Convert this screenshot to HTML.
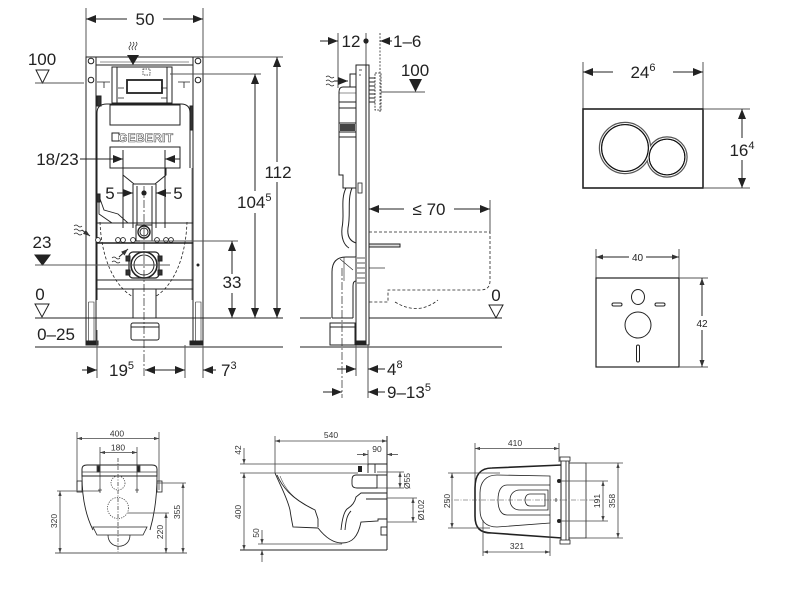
<!DOCTYPE html>
<html><head><meta charset="utf-8"><style>
html,body{margin:0;padding:0;background:#fff;}
svg{display:block;}
text{font-family:"Liberation Sans",sans-serif;fill:#222;}
.b text{fill:#333;font-size:8.5px;}
</style></head><body>
<svg width="800" height="600" viewBox="0 0 800 600" xmlns="http://www.w3.org/2000/svg">
<defs>
<marker id="A" markerUnits="userSpaceOnUse" viewBox="0 0 10 8" markerWidth="10" markerHeight="8" refX="10" refY="4" orient="auto-start-reverse"><path d="M0,0L10,4L0,8z" fill="#222"/></marker>
<marker id="M" markerUnits="userSpaceOnUse" viewBox="0 0 7 5" markerWidth="7" markerHeight="5" refX="7" refY="2.5" orient="auto-start-reverse"><path d="M0,0L7,2.5L0,5z" fill="#333"/></marker>
<marker id="s" markerUnits="userSpaceOnUse" viewBox="0 0 6 4" markerWidth="5" markerHeight="3.4" refX="6" refY="2" orient="auto-start-reverse"><path d="M0,0L6,2L0,4z" fill="#444"/></marker>
</defs>
<rect width="800" height="600" fill="#fff"/>

<!-- ================= FRONT FRAME VIEW ================= -->
<g fill="none" stroke="#222" stroke-width="1">
  <line x1="86" y1="8" x2="86" y2="57" stroke="#555"/>
  <line x1="203" y1="8" x2="203" y2="57" stroke="#555"/>
  <line x1="86" y1="19" x2="203" y2="19" marker-start="url(#A)" marker-end="url(#A)"/>
  <path d="M130,42 q2,2 0,4 q-2,2 0,4 M133,42 q2,2 0,4 q-2,2 0,4 M136,42 q2,2 0,4 q-2,2 0,4" stroke-width="0.7"/>
  <rect x="86" y="57" width="10" height="288"/>
  <rect x="193" y="57" width="10" height="288"/>
  <rect x="96" y="57" width="97" height="8"/>
  <line x1="100" y1="62" x2="189" y2="62" stroke-width="0.6"/>
  <circle cx="91" cy="61" r="2.8"/><circle cx="198" cy="61" r="2.8"/>
  <circle cx="91" cy="80" r="2.8"/><circle cx="198" cy="80" r="2.8"/>
  <path d="M88.5,302 H94 V341 M88.5,302 V341 M195.5,302 H201 V341 M195.5,302 V341" stroke-width="0.6"/>
  <rect x="112" y="67" width="60" height="36"/>
  <line x1="117" y1="67" x2="117" y2="103"/><line x1="167" y1="67" x2="167" y2="103"/>
  <rect x="127" y="80" width="35" height="13" stroke-width="1.8"/>
  <rect x="143" y="69" width="7" height="6" stroke-dasharray="1.5,1" stroke-width="0.7"/>
  <path d="M97,82 L110,82 M104,82 L104,88 M178,82 L190,82 M184,82 L184,88" stroke-width="0.8"/>
  <path d="M118,88 h6 M118,98 h6 M161,88 h6 M161,98 h6" stroke-width="0.8"/>
  <path d="M97,168 L97,113 Q97,104 107,104 L181,104 Q190,104 190,113 L190,168"/>
  <rect x="110" y="105" width="70" height="20"/>
  <rect x="190" y="106" width="3" height="24" fill="#333"/>
  <rect x="97" y="96" width="4" height="10" fill="#333"/>
  <rect x="112" y="133" width="7" height="8"/>
  <rect x="110" y="147" width="70" height="21"/>
  <path d="M123,168 L123,175 L134,184 L155,184 L166,175 L166,168"/>
  <path d="M123,150 V228 M165,150 V228 M133,184 V228 M156,184 V228 M137,186 V226 M152,186 V226"/>
  <path d="M99,196 L99,214 L112,223 L128,223 L118,214 L104,210 Z" stroke-width="0.9"/>
  <rect x="97" y="194" width="3" height="8" fill="#333"/>
  <line x1="97" y1="168" x2="97" y2="300"/>
  <line x1="192" y1="168" x2="192" y2="300" stroke-width="0.6"/>
  <line x1="96" y1="223" x2="193" y2="223"/>
  <line x1="96" y1="243" x2="193" y2="243" stroke-width="1.6"/>
  <line x1="96" y1="280" x2="193" y2="280"/>
  <line x1="96" y1="289" x2="193" y2="289"/>
  <path d="M100,222 C102,276 128,300 144,300 C160,300 185,276 187,222" stroke-dasharray="3,2" stroke-width="0.8"/>
  <rect x="136" y="225" width="16" height="16" fill="#fff"/>
  <circle cx="144" cy="232" r="6" fill="#fff" stroke-width="1.4"/>
  <circle cx="144" cy="232" r="4"/>
  <g fill="#fff" stroke-width="0.9">
    <circle cx="98" cy="240" r="2.4"/><circle cx="118" cy="240" r="2.4"/><circle cx="123" cy="240" r="2.4"/>
    <circle cx="133" cy="240" r="2.4"/><circle cx="157" cy="240" r="2.4"/><circle cx="166" cy="240" r="2.4"/><circle cx="171" cy="240" r="2.4"/>
  </g>
  <rect x="129" y="252" width="30" height="26" rx="4" fill="#fff" stroke-width="1.2"/>
  <rect x="126" y="256" width="4" height="5" fill="#333"/><rect x="158" y="256" width="4" height="5" fill="#333"/>
  <rect x="126" y="270" width="4" height="5" fill="#333"/><rect x="158" y="270" width="4" height="5" fill="#333"/>
  <circle cx="144" cy="265" r="13" fill="#fff" stroke-width="1.6"/>
  <circle cx="144" cy="265" r="10"/>
  <rect x="133" y="289" width="23" height="29" fill="#fff"/>
  <rect x="131" y="323" width="28" height="17" rx="2" fill="#fff"/>
  <line x1="131" y1="327" x2="159" y2="327"/>
  <rect x="86" y="341" width="12" height="4" fill="#222"/>
  <rect x="190" y="341" width="13" height="4" fill="#222"/>
  <circle cx="198" cy="265" r="1" fill="#222"/>
  <line x1="144" y1="186" x2="144" y2="378" stroke-dasharray="8,2,2,2" stroke-width="0.7"/>
  <path d="M74,226 q2,-2 4,0 q2,2 4,0 M74,230 q2,-2 4,0 q2,2 4,0 M74,234 q2,-2 4,0 q2,2 4,0" stroke-width="0.7"/>
  <line x1="82" y1="230" x2="90" y2="236" marker-end="url(#M)"/>
  <path d="M112,258 q2,-2 4,0 q2,2 4,0 M112,262 q2,-2 4,0 q2,2 4,0" stroke-width="0.7"/>
  <line x1="119" y1="257" x2="128" y2="249" marker-end="url(#M)"/>

  <path d="M36,70 L49,70 L42.5,83 Z"/>
  <line x1="35" y1="83" x2="84" y2="83" stroke="#555"/>
  <path d="M35,255 L50,255 L42.5,265 Z" fill="#222"/>
  <line x1="35" y1="265" x2="170" y2="265" stroke="#555"/>
  <path d="M35,304 L49,304 L42,317 Z"/>
  <line x1="35" y1="318" x2="283" y2="318"/>
  <line x1="35" y1="347" x2="283" y2="347"/>
  <line x1="80" y1="159" x2="123" y2="159" marker-end="url(#A)"/>
  <line x1="180" y1="159" x2="165" y2="159" marker-end="url(#A)"/>
  <line x1="117" y1="193" x2="133" y2="193" marker-end="url(#A)"/>
  <line x1="171" y1="193" x2="156" y2="193" marker-end="url(#A)"/>
  <line x1="203" y1="57" x2="283" y2="57" stroke="#555"/>
  <line x1="170" y1="74" x2="261" y2="74" stroke="#555"/>
  <line x1="140" y1="241" x2="238" y2="241" stroke="#555"/>
  <line x1="277" y1="57" x2="277" y2="318" marker-start="url(#A)" marker-end="url(#A)"/>
  <line x1="255" y1="74" x2="255" y2="318" marker-start="url(#A)" marker-end="url(#A)"/>
  <line x1="232" y1="241" x2="232" y2="318" marker-start="url(#A)" marker-end="url(#A)"/>
  <path d="M97,330 V378 M185,345 V378 M203,345 V378" stroke="#555"/>
  <line x1="82" y1="370" x2="97" y2="370" marker-end="url(#A)"/>
  <line x1="145" y1="370" x2="185" y2="370" marker-start="url(#A)" marker-end="url(#A)"/>
  <line x1="216" y1="370" x2="203" y2="370" marker-end="url(#A)"/>
</g>
<circle cx="144" cy="193" r="2.6" fill="#222"/>
<path d="M127,55 L139,55 L133,65 Z" fill="#222"/>
<text x="118" y="142" font-size="12" font-weight="bold" stroke="#555" stroke-width="0.6" letter-spacing="0.3" style="fill:#fff">GEBERIT</text>

<g fill="#fff">
  <rect x="127" y="10" width="36" height="18"/>
  <rect x="262" y="162" width="32" height="20"/>
  <rect x="236" y="191" width="40" height="22"/>
  <rect x="221" y="274" width="22" height="19"/>
</g>
<g font-size="17">
  <text x="145" y="25" text-anchor="middle">50</text>
  <text x="42" y="65" text-anchor="middle">100</text>
  <text x="57.5" y="165" text-anchor="middle">18/23</text>
  <text x="110" y="199" text-anchor="middle">5</text>
  <text x="178" y="199" text-anchor="middle">5</text>
  <text x="42" y="248" text-anchor="middle">23</text>
  <text x="40" y="300" text-anchor="middle">0</text>
  <text x="56" y="340" text-anchor="middle">0–25</text>
  <text x="232" y="288" text-anchor="middle">33</text>
  <text x="237" y="208">104<tspan font-size="11" dy="-7">5</tspan></text>
  <text x="278" y="178" text-anchor="middle">112</text>
  <text x="109" y="376">19<tspan font-size="11" dy="-7">5</tspan></text>
  <text x="221" y="376">7<tspan font-size="11" dy="-7">3</tspan></text>
</g>

<!-- ================= SIDE VIEW ================= -->
<g fill="none" stroke="#222" stroke-width="1">
  <path d="M338,33 V88 M366,33 V65" stroke="#555"/>
  <line x1="380" y1="33" x2="380" y2="112" stroke="#555" stroke-dasharray="2,1.5"/>
  <line x1="320" y1="41" x2="338" y2="41" marker-end="url(#A)"/>
  <line x1="392" y1="41" x2="380" y2="41" marker-end="url(#A)"/>
  <rect x="356" y="65" width="13" height="280" fill="#fff"/>
  <line x1="366" y1="65" x2="366" y2="345"/>
  <path d="M359,70 h3 M359,75 h2" stroke-width="0.8"/>
  <rect x="358" y="183" width="4" height="10" stroke-width="0.8"/>
  <rect x="375" y="73" width="6" height="37" stroke-dasharray="2,1.2" stroke-width="0.8"/>
  <path d="M369,78 h6 M369,82 h6 M369,86 h6 M369,90 h6 M369,94 h6 M369,98 h6 M369,102 h6" stroke-width="0.9"/>
  <line x1="381" y1="92" x2="425" y2="92" stroke="#555"/>
  <path d="M350,87 L350,74 L356,74"/>
  <path d="M356,87 L343,87 Q339,87 339,92 L339,175 L343,175 L343,188 L356,188"/>
  <path d="M339,102 H356 M339,108 H356 M339,123 H356 M339,132 H356 M339,137 H356"/>
  <rect x="340" y="124" width="15" height="7" fill="#444" stroke="none"/>
  <path d="M339,93 H356" stroke-width="0.6"/>
  <path d="M346,188 C340,200 345,214 342,228 C341,238 344,245 349,248"/>
  <path d="M352,188 C347,200 351,214 348,228 C347,236 350,241 356,243"/>
  <path d="M326,77 q2,-2 4,0 q2,2 4,0 M326,81 q2,-2 4,0 q2,2 4,0 M326,85 q2,-2 4,0 q2,2 4,0" stroke-width="0.7"/>
  <line x1="334" y1="81" x2="348" y2="81" marker-end="url(#A)"/>
  <path d="M332,318 L332,272 Q332,257 346,257 L356,257" fill="#fff"/>
  <path d="M353,318 L353,286 Q353,281 356,281"/>
  <path d="M344,257 V281 M340,259 L353,270" stroke-width="0.6"/>
  <path d="M357,258 h8 M357,263 h8 M357,268 h8 M357,273 h8 M357,278 h8 M357,283 h8" stroke-width="0.8"/>
  <line x1="332" y1="318" x2="353" y2="318"/>
  <rect x="330" y="323" width="25" height="22" fill="#fff"/>
  <line x1="330" y1="327" x2="355" y2="327"/>
  <rect x="355" y="341" width="11" height="4" fill="#222"/>
  <line x1="342" y1="268" x2="342" y2="398" stroke-dasharray="8,2,2,2" stroke-width="0.7"/>
  <rect x="369" y="244" width="31" height="3" fill="#ddd"/>
  <line x1="369" y1="268" x2="385" y2="268" stroke-width="0.7"/>
  <path d="M369,232 L490,232 L490,281 Q490,290 480,290 L388,290 L388,302 L369,302" stroke-dasharray="3,2" stroke-width="0.8"/>
  <path d="M395,302 Q418,316 438,300" stroke-dasharray="3,2" stroke-width="0.8"/>
  <line x1="490" y1="200" x2="490" y2="232" stroke="#555"/>
  <line x1="369" y1="209" x2="490" y2="209" marker-start="url(#A)" marker-end="url(#A)"/>
  <path d="M489,305 L503,305 L496,318 Z"/>
  <path d="M300,318 H331 M369,318 H502"/>
  <line x1="300" y1="347" x2="502" y2="347"/>
  <path d="M356,345 V376 M368,345 V398" stroke="#555"/>
  <line x1="337" y1="369" x2="356" y2="369" marker-end="url(#A)"/>
  <line x1="385" y1="369" x2="368" y2="369" marker-end="url(#A)"/>
  <line x1="323" y1="392" x2="342" y2="392" marker-end="url(#A)"/>
  <line x1="385" y1="392" x2="368" y2="392" marker-end="url(#A)"/>
</g>
<circle cx="366" cy="41" r="2.6" fill="#222"/>
<path d="M409,79 L422,79 L415.5,92 Z" fill="#222"/>
<rect x="404" y="200" width="50" height="20" fill="#fff"/>
<g font-size="17">
  <text x="351" y="47" text-anchor="middle">12</text>
  <text x="393" y="47">1–6</text>
  <text x="415" y="76" text-anchor="middle">100</text>
  <text x="429" y="215" text-anchor="middle">≤ 70</text>
  <text x="496" y="301" text-anchor="middle">0</text>
  <text x="387" y="375">4<tspan font-size="11" dy="-7">8</tspan></text>
  <text x="387" y="398">9–13<tspan font-size="11" dy="-7">5</tspan></text>
</g>

<!-- ================= FLUSH PLATE ================= -->
<g fill="none" stroke="#222" stroke-width="1">
  <path d="M583,62 V109 M703,62 V109" stroke="#555"/>
  <line x1="583" y1="72" x2="703" y2="72" marker-start="url(#A)" marker-end="url(#A)"/>
  <rect x="583" y="109" width="120" height="79" stroke-width="1.6"/>
  <path d="M703,109 H750 M703,188 H750" stroke="#555"/>
  <line x1="742" y1="109" x2="742" y2="188" marker-start="url(#A)" marker-end="url(#A)"/>
</g>
<g>
  <circle cx="625" cy="148" r="24.5" fill="none" stroke="#555" stroke-width="3.4"/>
  <circle cx="667" cy="157" r="19" fill="none" stroke="#555" stroke-width="3.4"/>
  <circle cx="625" cy="148" r="24.5" fill="none" stroke="#fff" stroke-width="1"/>
  <circle cx="667" cy="157" r="19" fill="none" stroke="#fff" stroke-width="1"/>
  <circle cx="625" cy="148" r="23.3" fill="none" stroke="#111" stroke-width="1.2"/>
  <circle cx="667" cy="157" r="17.8" fill="none" stroke="#111" stroke-width="1.2"/>
  <circle cx="625" cy="148" r="22.7" fill="#fff"/>
  <circle cx="667" cy="157" r="17.2" fill="#fff"/>
</g>
<rect x="613" y="62" width="60" height="20" fill="#fff"/>
<rect x="728" y="138" width="28" height="22" fill="#fff"/>
<g font-size="17">
  <text x="643" y="78" text-anchor="middle">24<tspan font-size="11" dy="-7">6</tspan></text>
  <text x="742" y="156" text-anchor="middle">16<tspan font-size="11" dy="-7">4</tspan></text>
</g>

<!-- ================= SOUND PAD ================= -->
<g fill="none" stroke="#222" stroke-width="1">
  <path d="M596,249 V278 M679,249 V278" stroke="#555"/>
  <line x1="596" y1="257" x2="679" y2="257" marker-start="url(#M)" marker-end="url(#M)"/>
  <rect x="596" y="278" width="83" height="89" stroke-width="1.2"/>
  <path d="M679,278 H708 M679,367 H708" stroke="#555"/>
  <line x1="702" y1="278" x2="702" y2="367" marker-start="url(#M)" marker-end="url(#M)"/>
  <ellipse cx="638" cy="297" rx="6.5" ry="7.5"/>
  <circle cx="638" cy="325" r="13"/>
  <rect x="612" y="303" width="10" height="3" rx="1.5"/>
  <rect x="655" y="303" width="10" height="3" rx="1.5"/>
  <rect x="636.5" y="345" width="3" height="17" rx="1.5"/>
</g>
<rect x="629" y="250" width="17" height="12" fill="#fff"/>
<rect x="694" y="316" width="16" height="14" fill="#fff"/>
<g font-size="10">
  <text x="637.5" y="261" text-anchor="middle">40</text>
  <text x="702" y="327" text-anchor="middle">42</text>
</g>

<!-- ================= BOTTOM LEFT: WC FRONT ================= -->
<g class="b">
<g fill="none" stroke="#444" stroke-width="0.8">
  <path d="M77,432 V490 M159,432 V490 M100,447 V493 M137,447 V493"/>
  <line x1="77" y1="438.5" x2="159" y2="438.5" marker-start="url(#s)" marker-end="url(#s)"/>
  <line x1="100" y1="452.5" x2="137" y2="452.5" marker-start="url(#s)" marker-end="url(#s)"/>
  <path d="M82,476 L82,469 Q82,465 87,465 L152,465 Q157,465 157,469 L157,476 Z" stroke="#222" stroke-width="1"/>
  <line x1="82" y1="472" x2="157" y2="472"/>
  <rect x="97" y="466" width="3" height="6" fill="#222"/>
  <rect x="137" y="466" width="3" height="6" fill="#222"/>
  <path d="M82,476 C82,498 86,516 93,530 M157,476 C157,498 154,516 150,530" stroke="#222" stroke-width="0.9"/>
  <path d="M93,527 L147,527 L143,535 L97,535 Z" stroke="#222"/>
  <path d="M108,535 C108,550 130,550 130,535" stroke="#222"/>
  <rect x="77" y="481" width="5" height="11" stroke="#222"/>
  <rect x="157" y="481" width="5" height="11" stroke="#222"/>
  <circle cx="118" cy="483" r="7" stroke-dasharray="1.2,1.2"/>
  <circle cx="118" cy="508" r="10.5" stroke-dasharray="1.2,1.2"/>
  <path d="M98,490 h4 M100,488 v4 M135,490 h4 M137,488 v4"/>
  <line x1="118" y1="458" x2="118" y2="552" stroke-dasharray="4,1.5,1,1.5"/>
  <line x1="55" y1="553" x2="187" y2="553" stroke="#222"/>
  <path d="M57,491 H100 M128,513 H169 M157,483 H186"/>
  <line x1="60" y1="491" x2="60" y2="553" marker-start="url(#s)" marker-end="url(#s)"/>
  <line x1="166" y1="513" x2="166" y2="553" marker-start="url(#s)" marker-end="url(#s)"/>
  <line x1="183" y1="483" x2="183" y2="553" marker-start="url(#s)" marker-end="url(#s)"/>
</g>
<text x="117" y="436.5" text-anchor="middle">400</text>
<text x="118" y="450.5" text-anchor="middle">180</text>
<text transform="translate(57,521) rotate(-90)" text-anchor="middle">320</text>
<text transform="translate(163,532) rotate(-90)" text-anchor="middle">220</text>
<text transform="translate(180,512) rotate(-90)" text-anchor="middle">355</text>
</g>

<!-- ================= BOTTOM MIDDLE: WC SIDE ================= -->
<g class="b">
<g fill="none" stroke="#444" stroke-width="0.8">
  <line x1="275" y1="436" x2="275" y2="473"/>
  <line x1="275" y1="441" x2="387" y2="441" marker-start="url(#s)" marker-end="url(#s)"/>
  <line x1="387" y1="436" x2="387" y2="550" stroke="#222" stroke-width="1"/>
  <line x1="240" y1="550" x2="387" y2="550" stroke="#222" stroke-width="1"/>
  <path d="M240,464 H368 M240,473 H358"/>
  <line x1="244" y1="448" x2="244" y2="464" marker-end="url(#s)"/>
  <line x1="244" y1="473" x2="244" y2="550" marker-start="url(#s)" marker-end="url(#s)"/>
  <path d="M258,544 H342"/>
  <line x1="262" y1="530" x2="262" y2="544" marker-end="url(#s)"/>
  <line x1="262" y1="562" x2="262" y2="550" marker-end="url(#s)"/>
  <line x1="368" y1="450" x2="368" y2="466"/>
  <line x1="357" y1="454.5" x2="368" y2="454.5" marker-end="url(#s)"/>
  <line x1="398" y1="454.5" x2="387" y2="454.5" marker-end="url(#s)"/>
  <path d="M377,472 H404 M377,488 H404 M387,498 H417 M387,522 H417"/>
  <line x1="400" y1="472" x2="400" y2="488" marker-start="url(#s)" marker-end="url(#s)"/>
  <line x1="413" y1="498" x2="413" y2="522" marker-start="url(#s)" marker-end="url(#s)"/>
  <g stroke="#222" stroke-width="0.9">
    <path d="M368,464 L387,464 M368,464 V473 M375,464 V473"/>
    <path d="M275,473 C280,485 287,497 290,510 C291,517 292,522 293,527 L318,528 C325,537 333,543 342,543 C352,543 358,537 361,522 L378,521 L378,519 L387,519"/>
    <path d="M277,475 C282,486 290,498 315,510 L318,519 L318,527"/>
    <path d="M280,476 C285,488 292,499 313,509" stroke-width="0.5"/>
    <path d="M341,530 C342,520 344,512 347,509 C352,506 355,502 356,497 L361,493 L387,493"/>
    <path d="M345,530 C346,520 347,515 351,511"/>
    <path d="M387,499 L366,499"/>
    <path d="M387,475 L356,475 Q352,475 352,480 L352,484 Q352,488 357,488 L377,488 L377,475"/>
    <rect x="381" y="527" width="6" height="8"/>
  </g>
  <rect x="358" y="466" width="4" height="6" fill="#222" stroke="none"/>
</g>
<text x="331" y="438" text-anchor="middle">540</text>
<text x="377" y="452" text-anchor="middle">90</text>
<text transform="translate(241,450) rotate(-90)" text-anchor="middle">42</text>
<text transform="translate(241,512) rotate(-90)" text-anchor="middle">400</text>
<text transform="translate(259,533) rotate(-90)" text-anchor="middle">50</text>
<text transform="translate(410,481) rotate(-90)" text-anchor="middle">Ø55</text>
<text transform="translate(424,510) rotate(-90)" text-anchor="middle">Ø102</text>
</g>

<!-- ================= BOTTOM RIGHT: WC TOP ================= -->
<g class="b">
<g fill="none" stroke="#444" stroke-width="0.8">
  <path d="M475,443 V490 M559,443 V462"/>
  <line x1="475" y1="448.5" x2="559" y2="448.5" marker-start="url(#s)" marker-end="url(#s)"/>
  <g stroke="#222">
    <path d="M562,465 L492,468 C480,468 475,475 475,488 L475,516 C475,528 480,533 492,533 L562,538" stroke-width="1.6"/>
    <path d="M550,476 L497,475 C486,475 480,482 480,493 L480,510 C480,521 486,527 497,527 L550,523 Z"/>
    <path d="M550,485 L507,485 C501,485 498,491 498,500 C498,509 501,515 507,515 L550,515"/>
    <path d="M548,490 L520,490 C514,490 510,494 510,500 C510,506 514,510 520,510 L548,510 Z"/>
    <path d="M545,494 L530,494 C526,494 525,498 525,500 C525,502 526,506 530,506 L545,506 Z"/>
    <rect x="561" y="459" width="8" height="83" fill="#fff" stroke-width="1"/>
    <line x1="566" y1="459" x2="566" y2="542"/>
    <rect x="560" y="457" width="10" height="4" fill="#fff"/>
    <rect x="560" y="540" width="10" height="4" fill="#fff"/>
    <rect x="569" y="463" width="17" height="75"/>
  </g>
  <line x1="445" y1="500" x2="600" y2="500" stroke-dasharray="5,1.5,1,1.5" stroke-width="0.6"/>
  <path d="M448,473 H500 M448,528 H490"/>
  <line x1="452" y1="473" x2="452" y2="528" marker-start="url(#s)" marker-end="url(#s)"/>
  <path d="M483,520 V556 M550,520 V556"/>
  <line x1="483" y1="552" x2="550" y2="552" marker-start="url(#s)" marker-end="url(#s)"/>
  <path d="M561,481 H608 M561,521 H608"/>
  <line x1="603" y1="481" x2="603" y2="521" marker-start="url(#s)" marker-end="url(#s)"/>
  <path d="M586,463 H623 M586,538 H623"/>
  <line x1="618" y1="463" x2="618" y2="538" marker-start="url(#s)" marker-end="url(#s)"/>
  <line x1="556" y1="498" x2="556" y2="502" stroke="#222"/>
</g>
<circle cx="559" cy="481" r="2" fill="#222"/>
<circle cx="559" cy="521" r="2" fill="#222"/>
<text x="515" y="446" text-anchor="middle">410</text>
<text x="517" y="549" text-anchor="middle">321</text>
<text transform="translate(450,501) rotate(-90)" text-anchor="middle">250</text>
<text transform="translate(600,501) rotate(-90)" text-anchor="middle">191</text>
<text transform="translate(615,501) rotate(-90)" text-anchor="middle">358</text>
</g>
</svg>
</body></html>
